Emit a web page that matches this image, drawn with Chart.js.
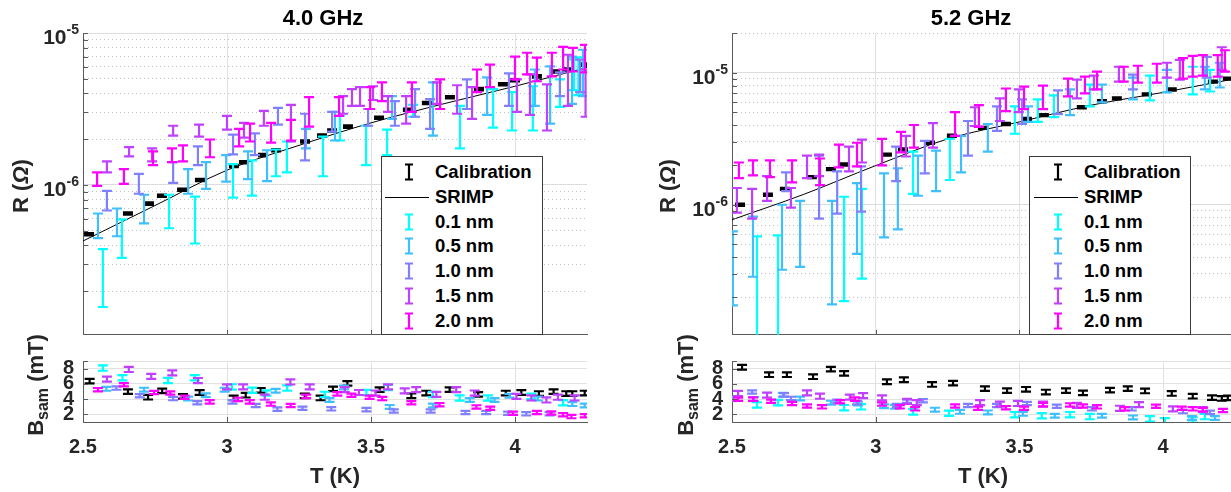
<!DOCTYPE html>
<html>
<head>
<meta charset="utf-8">
<script src="https://cdn.jsdelivr.net/npm/chart.js@4.4.1/dist/chart.umd.min.js"></script>
<style>
  body { margin: 0; width: 1231px; height: 492px; overflow: hidden; background: #fff; position: relative; font-family: "Liberation Sans", Arial, sans-serif; }
  canvas { position: absolute; }
  .txt { position: absolute; transform: translate(-50%, -50%); font-weight: bold; color: #262626; white-space: nowrap; }
  .ttl { font-size: 22px; color: #000; }
  .axl { font-size: 22px; }
  .rot { transform: translate(-50%, -50%) rotate(-90deg); }
  .rot sub { font-size: 16px; vertical-align: -5px; }
  .legend { position: absolute; top: 156px; width: 160px; height: 177px; border: 1px solid #3a3a3a; background: #fff; z-index: 5; }
  .row { position: absolute; left: 0; height: 24px; width: 100%; }
  .row span { position: absolute; top: 0; line-height: 24px; font-size: 18.5px; font-weight: bold; color: #000; }
  .row svg { position: absolute; top: 3px; }
</style>
</head>
<body>
<canvas id="topL" width="600" height="345" style="left:0;top:0"></canvas>
<canvas id="botL" width="600" height="152" style="left:0;top:340px"></canvas>
<canvas id="topR" width="600" height="345" style="left:640px;top:0"></canvas>
<canvas id="botR" width="600" height="152" style="left:640px;top:340px"></canvas>

<div class="txt ttl" style="left:323px;top:18px">4.0 GHz</div>
<div class="txt ttl" style="left:971px;top:18px">5.2 GHz</div>
<div class="txt axl rot" style="left:21px;top:186px">R (<i>Ω</i>)</div>
<div class="txt axl rot" style="left:668px;top:186px">R (<i>Ω</i>)</div>
<div class="txt axl rot" style="left:37px;top:385px">B<sub>sam</sub> (mT)</div>
<div class="txt axl rot" style="left:687px;top:385px">B<sub>sam</sub> (mT)</div>
<div class="txt axl" style="left:335px;top:476px">T (K)</div>
<div class="txt axl" style="left:983px;top:476px">T (K)</div>
<div class="legend" id="legL" style="left:381px"></div>
<div class="legend" id="legR" style="left:1029px"></div>

<script>
// axis ticks
const tTicks = [2.5, 3, 3.5, 4];
const bTicks = [2, 4, 6, 8];
const rExps = [-6, -5];

// legend entries
const names = ["0.1 nm", "0.5 nm", "1.0 nm", "1.5 nm", "2.0 nm"];
const cols = ["#00ffff", "#40bfff", "#8080ff", "#bf40ff", "#ff00ff"];

// ---- 4.0 GHz, R in micro-ohm: [T, low, high]
const r40_01 = [[2.569,0.157,0.378],[2.635,0.331,0.593],[2.799,0.518,0.861],[2.889,0.411,0.836],[3.021,0.824,1.37],[3.087,0.849,1.45],[3.170,1.14,1.71],[3.208,1.21,1.93],[3.333,1.14,2.08],[3.392,1.96,2.85],[3.483,1.35,2.45],[3.556,1.57,2.31],[3.646,2.81,3.36],[3.809,1.74,3.31],[3.924,2.38,4.27],[3.990,2.28,4.08],[4.062,2.28,4.46],[4.156,3.26,4.95],[4.205,4.2,6.7],[4.22,3.9,6.9]];
const r40_05 = [[2.552,0.446,0.648],[2.618,0.459,0.699],[2.712,0.558,0.861],[2.865,0.874,1.27],[2.927,0.942,1.41],[2.997,1.05,1.57],[3.073,1.09,1.66],[3.139,1.06,1.69],[3.274,1.74,2.34],[3.375,1.96,3.02],[3.573,2.72,3.84],[3.715,2.11,4.73],[3.903,2.89,5.10],[4.069,3.31,5.75],[4.122,2.53,6.02],[4.198,3.41,6.98],[4.236,3.84,7.76]];
const r40_10 = [[2.583,0.678,0.914],[2.694,0.874,1.18],[2.813,1.03,1.41],[2.899,1.35,1.79],[3.021,1.59,2.14],[3.097,1.57,2.18],[3.177,2.49,3.21],[3.271,1.45,2.94],[3.365,2.24,3.02],[3.490,2.45,3.16],[3.583,2.45,3.56],[3.653,2.81,4.27],[3.705,2.34,3.67],[3.833,3.16,4.95],[3.979,3.31,5.42],[4.156,3.84,5.50],[4.226,4.08,6.68]];
const r40_15 = [[2.583,1.21,1.43],[2.660,1.54,1.77],[2.740,1.43,1.74],[2.813,2.11,2.45],[2.903,2.08,2.49],[3.000,2.31,2.85],[3.059,2.05,2.56],[3.128,2.45,3.07],[3.222,1.93,3.36],[3.403,2.94,3.84],[3.434,3.31,4.27],[3.462,3.31,4.40],[3.507,3.62,4.46],[3.559,3.02,3.84],[3.622,2.53,3.84],[3.729,3.41,4.73],[3.799,2.94,4.53],[3.851,2.72,4.40],[4.007,3.02,4.95],[4.052,2.89,5.34],[4.111,2.28,4.59],[4.184,3.31,7.19],[4.245,2.81,5.75]];
const r40_20 = [[2.549,0.985,1.21],[2.642,1.015,1.27],[2.743,1.35,1.66],[2.809,1.41,1.74],[2.847,1.43,1.82],[2.941,1.52,1.99],[3.042,1.79,2.34],[3.080,1.93,2.53],[3.153,1.90,2.56],[3.222,1.96,2.68],[3.285,2.42,3.78],[3.389,2.85,3.78],[3.497,3.16,4.40],[3.538,3.56,4.73],[3.642,3.02,4.73],[3.740,3.16,4.95],[3.868,4.08,5.75],[3.913,4.40,6.20],[4.000,4.95,6.98],[4.042,5.34,7.41],[4.076,4.81,6.88],[4.128,5.18,7.41],[4.167,5.75,8.11],[4.201,5.58,7.99],[4.243,5.50,8.36]];
const r40_calT = [2.521,2.656,2.729,2.774,2.844,2.906,3.024,3.059,3.125,3.170,3.271,3.330,3.365,3.420,3.528,3.628,3.694,3.774,3.875,3.958,4.000,4.076,4.139,4.181,4.236];
const r40_cal = [0.473,0.648,0.753,0.849,0.929,1.077,1.33,1.41,1.57,1.69,1.93,2.11,2.28,2.42,2.77,3.12,3.46,3.78,4.27,4.60,4.88,5.18,5.58,5.75,6.19];
const calErr40 = 0.012;
const srimpT = [2.5, 2.75, 3.0, 3.25, 3.5, 3.75, 4.0, 4.25];
const srimp40 = [0.427, 0.731, 1.25, 1.82, 2.56, 3.41, 4.46, 5.93];

// ---- 4.0 GHz, B_sam in mT: [T, B]
const b40_cal = [[2.523,6.36],[2.656,4.98],[2.726,4.25],[2.775,5.09],[2.847,4.36],[2.905,4.87],[3.023,4.15],[3.065,4.51],[3.117,5.16],[3.270,4.44],[3.325,4.15],[3.368,5.35],[3.418,6.07],[3.530,5.24],[3.640,4.44],[3.692,4.8],[3.773,5.24],[3.872,4.62],[3.968,4.8],[4.022,4.87],[4.083,4.73],[4.134,4.98],[4.178,4.73],[4.199,4.73],[4.242,4.8]];
const b40_01 = [[2.569,8.07],[2.637,6.8],[2.795,6.44],[2.888,6.8],[3.017,5.6],[3.088,5.16],[3.137,4.8],[3.209,5.45],[3.339,4.62],[3.484,4.87],[3.559,5.53],[3.715,4.62],[3.808,4.15],[3.906,4.15],[4.057,4.36],[4.167,3.53]];
const b40_05 = [[2.581,5.35],[2.712,5.24],[2.865,4.07],[2.926,4.51],[2.992,5.24],[3.169,5.09],[3.356,3.89],[3.406,5.53],[3.565,2.98],[3.715,3.16],[3.843,3.89],[3.929,3.89],[3.981,4.44],[4.080,4.07],[4.199,3.35],[4.242,3.16]];
const b40_10 = [[2.616,5.45],[2.697,4.44],[2.813,4.07],[2.897,3.53],[3.019,3.64],[3.100,3.16],[3.175,2.69],[3.262,2.8],[3.362,2.73],[3.484,2.62],[3.579,2.44],[3.707,2.44],[3.828,2.25],[3.900,2.25],[3.976,2.15],[4.039,2.07],[4.120,2.07]];
const b40_15 = [[2.583,6.62],[2.659,7.89],[2.737,6.98],[2.810,7.45],[2.899,6.44],[3.000,5.6],[3.056,5.6],[3.131,4.25],[3.220,6.25],[3.287,5.6],[3.409,5.24],[3.458,4.87],[3.516,4.8],[3.559,5.6],[3.617,5.09],[3.657,5.24],[3.727,4.62],[3.796,5.24],[3.860,4.8],[4.005,4.36],[4.057,4.15],[4.109,3.89],[4.149,4.25],[4.207,4.15]];
const b40_20 = [[2.552,5.24],[2.642,5.89],[2.747,4.87],[2.803,4.8],[2.853,4.25],[2.940,3.64],[3.038,3.96],[3.079,3.64],[3.152,3.35],[3.221,3.16],[3.275,4.36],[3.383,4.69],[3.432,4.51],[3.495,4.25],[3.539,4.07],[3.640,3.53],[3.738,3.27],[3.866,2.98],[3.914,2.8],[3.993,2.15],[4.076,2.25],[4.126,2.18],[4.167,1.96],[4.196,1.71],[4.242,1.82]];

// ---- 5.2 GHz, R in micro-ohm: [T, low, high]
const r52_01 = [[2.587,0.05,0.577],[2.660,0.05,0.587],[2.890,0.186,1.15],[2.952,0.276,1.32],[3.130,1.21,2.53],[3.258,1.54,3.16],[3.484,3.45,5.57],[3.564,4.24,6.29],[3.620,4.61,6.73],[3.745,5.57,8.13],[3.954,6.18,9.50],[4.103,6.85,11.1],[4.163,7.21,10.5]];
const r52_05 = [[2.503,0.173,0.629],[2.573,0.285,0.813],[2.674,0.322,1.00],[2.737,0.339,1.07],[2.848,0.176,1.07],[2.935,0.424,1.46],[3.029,0.567,1.73],[3.077,0.651,1.89],[3.147,1.17,2.36],[3.210,1.27,2.57],[3.297,1.76,3.33],[3.390,2.53,4.09],[3.530,4.24,5.57],[3.676,4.78,7.47],[3.787,5.97,8.13],[3.895,6.29,9.18],[4.013,7.10,10.5],[4.145,7.47,11.1],[4.197,7.73,11.9]];
const r52_10 = [[2.688,1.27,1.76],[2.803,0.786,2.36],[2.866,0.857,1.79],[2.949,0.887,1.95],[3.071,1.51,2.76],[3.171,1.73,3.05],[3.321,2.36,4.31],[3.422,3.63,5.57],[3.509,4.09,6.29],[3.634,4.86,7.34],[3.895,7.47,9.66],[4.152,9.18,13.2]];
const r52_15 = [[2.517,0.871,1.34],[2.570,0.786,1.32],[2.622,1.07,1.65],[2.705,0.950,1.34],[2.761,1.59,2.36],[2.803,1.65,2.40],[2.907,1.79,2.76],[2.952,2.09,3.11],[3.105,2.32,3.33],[3.199,2.71,4.16],[3.345,3.95,5.48],[3.432,4.31,6.40],[3.498,5.03,7.47],[3.700,6.40,8.87],[3.759,7.47,9.50],[3.846,8.57,11.1],[4.013,9.18,11.9],[4.058,8.87,12.5],[4.204,10.5,15.6]];
const r52_20 = [[2.524,1.59,2.09],[2.573,1.67,2.17],[2.632,1.62,2.17],[2.709,1.48,2.17],[2.806,1.41,2.24],[2.872,1.92,2.85],[2.935,1.95,2.95],[3.022,1.99,3.16],[3.088,2.49,3.57],[3.133,2.71,4.02],[3.276,3.33,5.03],[3.359,3.89,5.68],[3.453,5.12,7.60],[3.516,5.30,7.86],[3.582,5.30,8.00],[3.669,6.62,9.02],[3.728,6.97,9.33],[3.770,7.47,10.2],[3.863,8.57,11.1],[3.912,8.42,11.3],[3.978,8.42,11.7],[4.069,9.02,12.9],[4.103,9.33,13.4],[4.138,9.50,13.6],[4.190,9.33,13.6],[4.215,10.2,14.8]];
const r52_calT = [2.528,2.625,2.684,2.778,2.844,2.890,3.039,3.095,3.189,3.265,3.373,3.453,3.526,3.585,3.717,3.787,3.839,3.943,4.030,4.173,4.225];
const r52_cal = [1.00,1.19,1.32,1.62,1.86,2.02,2.40,2.62,2.95,3.33,3.82,4.09,4.46,4.78,5.48,6.08,6.40,6.85,7.47,8.57,9.02];
const calErr52 = 0.012;
const srimp52 = [0.77, 1.2, 1.98, 3.15, 4.24, 5.68, 7.1, 9.0];

// ---- 5.2 GHz, B_sam in mT: [T, B]
const b52_cal = [[2.535,8.18],[2.629,7.2],[2.691,7.2],[2.782,6.94],[2.844,7.93],[2.890,7.38],[3.039,6.28],[3.098,6.54],[3.196,5.92],[3.269,6.1],[3.380,5.37],[3.457,5.11],[3.523,5.29],[3.592,4.93],[3.662,5.11],[3.721,4.82],[3.815,5.18],[3.877,5.37],[3.937,5.07],[4.030,4.74],[4.103,4.38],[4.170,4.2],[4.204,4.09],[4.225,4.16]];
const b52_01 = [[2.587,3.24],[2.660,3.54],[2.890,2.88],[2.949,2.99],[3.130,2.33],[3.255,2.15],[3.484,1.96],[3.578,1.82],[3.676,1.96],[3.745,1.71],[3.954,1.41],[4.006,1.16],[4.103,1.27],[4.145,1.71]];
const b52_05 = [[2.503,4.09],[2.577,4.0],[2.677,4.56],[2.737,4.09],[2.844,3.54],[2.938,3.43],[3.029,3.06],[3.067,2.99],[3.206,2.62],[3.293,2.33],[3.390,2.26],[3.512,2.07],[3.623,1.82],[3.787,1.82],[3.895,1.6],[4.100,1.52],[4.180,1.52]];
const b52_10 = [[2.570,4.93],[2.681,4.56],[2.705,4.09],[2.866,3.72],[2.935,3.54],[3.074,3.17],[3.109,3.72],[3.164,3.79],[3.321,3.17],[3.422,3.17],[3.526,3.43],[3.630,3.06],[3.752,2.73],[3.891,2.73],[4.069,2.37],[4.163,2.26]];
const b52_15 = [[2.521,4.74],[2.622,4.52],[2.761,4.82],[2.806,4.38],[2.910,4.27],[2.956,4.45],[3.022,4.16],[3.109,3.72],[3.143,3.54],[3.363,3.54],[3.432,3.35],[3.495,3.43],[3.582,3.35],[3.700,3.17],[3.850,2.8],[3.916,3.28],[4.034,2.73],[4.138,2.62]];
const b52_20 = [[2.521,3.98],[2.573,4.0],[2.636,3.72],[2.709,3.43],[2.761,3.1],[2.813,2.99],[2.876,3.65],[2.928,4.0],[3.022,3.35],[3.084,2.99],[3.137,2.73],[3.276,3.1],[3.356,2.8],[3.453,2.88],[3.516,2.8],[3.582,3.28],[3.676,3.24],[3.721,3.1],[3.770,2.99],[3.867,2.73],[3.975,3.06],[4.065,2.8],[4.103,2.73],[4.138,2.62],[4.208,2.51]];

// half heights of the B_sam bars: cal, 0.1, 0.5, 1.0, 1.5, 2.0
const bErr = [0.3, 0.35, 0.25, 0.22, 0.33, 0.22];

Chart.defaults.font.family = '"Liberation Sans", Arial, sans-serif';
const AX = "#5a5a5a";

const isDecade = v => Math.abs(Math.log10(v) - Math.round(Math.log10(v))) < 1e-6;

function logGrid(lo, hi) {
  const out = [];
  for (let e = -8; e <= -4; e++)
    for (let m = 1; m < 10; m++) {
      const v = m * Math.pow(10, e);
      if (v >= lo * 1.0001 && v <= hi * 1.0001) out.push(v);
    }
  return out;
}

// draws vertical error bars with caps, using the chart scales
const errorBars = {
  id: "errorBars",
  afterDatasetsDraw(chart) {
    const { ctx, chartArea: a, scales: { x, y } } = chart;
    ctx.save();
    ctx.beginPath();
    ctx.rect(a.left, a.top, a.right - a.left, a.bottom - a.top);
    ctx.clip();
    chart.data.datasets.forEach(ds => {
      if (!ds.bar) return;
      ctx.strokeStyle = ds.borderColor;
      ctx.lineWidth = ds.bar.width;
      const w = ds.bar.cap;
      ds.data.forEach(p => {
        const px = x.getPixelForValue(p.x);
        const p1 = y.getPixelForValue(p.lo);
        const p2 = y.getPixelForValue(p.hi);
        ctx.beginPath();
        ctx.moveTo(px, p1); ctx.lineTo(px, p2);
        ctx.moveTo(px - w, p1); ctx.lineTo(px + w, p1);
        ctx.moveTo(px - w, p2); ctx.lineTo(px + w, p2);
        ctx.stroke();
      });
    });
    ctx.restore();
  }
};

// 10^n labels on the log axes
const powLabels = {
  id: "powLabels",
  afterDraw(chart, args, opts) {
    if (!opts || !opts.exps) return;
    const s = chart.scales.y, ctx = chart.ctx;
    ctx.save();
    ctx.fillStyle = "#262626";
    ctx.textAlign = "left";
    ctx.textBaseline = "alphabetic";
    opts.exps.forEach(e => {
      const py = s.getPixelForValue(Math.pow(10, e));
      const sup = "-" + Math.abs(e);
      ctx.font = 'bold 14px "Liberation Sans", Arial, sans-serif';
      const ws = ctx.measureText(sup).width;
      ctx.font = 'bold 21px "Liberation Sans", Arial, sans-serif';
      const wb = ctx.measureText("10").width;
      const right = s.right - 4;
      ctx.fillText("10", right - ws - wb, py + 11);
      ctx.font = 'bold 14px "Liberation Sans", Arial, sans-serif';
      ctx.fillText(sup, right - ws, py + 1);
    });
    ctx.restore();
  }
};

// tick marks pointing into the plot
const innerTicks = {
  id: "innerTicks",
  afterDraw(chart) {
    const { ctx, chartArea: a, scales: { x, y } } = chart;
    ctx.save();
    ctx.strokeStyle = AX;
    ctx.lineWidth = 1;
    ctx.beginPath();
    y.ticks.forEach(t => {
      const py = Math.round(y.getPixelForValue(t.value)) + 0.5;
      ctx.moveTo(a.left, py); ctx.lineTo(a.left + 5, py);
    });
    x.ticks.forEach(t => {
      const px = Math.round(x.getPixelForValue(t.value)) + 0.5;
      ctx.moveTo(px, a.bottom); ctx.lineTo(px, a.bottom - 5);
    });
    ctx.stroke();
    ctx.restore();
  }
};

function rSet(rows, color) {
  return {
    type: "scatter", pointRadius: 0, borderColor: color, bar: { width: 2.2, cap: 5 },
    data: rows.map(r => ({ x: r[0], y: Math.sqrt(r[1] * r[2]) * 1e-6, lo: r[1] * 1e-6, hi: r[2] * 1e-6 }))
  };
}

function calSet(ts, vals, err) {
  return {
    type: "scatter", pointRadius: 0, borderColor: "#000", bar: { width: 3, cap: 5 },
    data: ts.map((t, i) => ({ x: t, y: vals[i] * 1e-6, lo: vals[i] * (1 - err) * 1e-6, hi: vals[i] * (1 + err) * 1e-6 }))
  };
}

function bSet(rows, color, err) {
  return {
    type: "scatter", pointRadius: 0, borderColor: color, bar: { width: 2.2, cap: 5 },
    data: rows.map(r => ({ x: r[0], y: r[1], lo: r[1] - err, hi: r[1] + err }))
  };
}

function xScale(h, showLabels) {
  return {
    type: "linear", min: 2.5, max: 4.25,
    afterBuildTicks: s => { s.ticks = tTicks.map(v => ({ value: v })); },
    afterFit: s => { s.height = h; },
    ticks: {
      display: showLabels, autoSkip: false, maxRotation: 0, minRotation: 0, padding: 13,
      color: "#262626", font: { size: 20, weight: "bold" }, callback: v => String(v)
    },
    grid: { color: "#e2e2e2", drawTicks: false },
    border: { color: AX }
  };
}

function topChart(id, sets, cal, srimp, yMin, yMax, axisW, padR) {
  const grid = logGrid(yMin, yMax);
  return new Chart(document.getElementById(id), {
    type: "scatter",
    data: {
      datasets: [
        cal,
        { type: "line", data: srimpT.map((t, i) => ({ x: t, y: srimp[i] * 1e-6 })), borderColor: "#000", borderWidth: 1, pointRadius: 0, cubicInterpolationMode: "monotone" },
        ...sets.map((rows, i) => rSet(rows, cols[i]))
      ]
    },
    options: {
      responsive: false, animation: false, devicePixelRatio: 1,
      layout: { padding: { top: 33, right: padR, bottom: 6, left: 0 } },
      plugins: { legend: { display: false }, tooltip: { enabled: false }, powLabels: { exps: rExps } },
      scales: {
        x: xScale(0, false),
        y: {
          type: "logarithmic", min: yMin, max: yMax,
          afterBuildTicks: s => { s.ticks = grid.map(v => ({ value: v })); },
          afterFit: s => { s.width = axisW; },
          ticks: { autoSkip: false, callback: () => "" },
          grid: { drawTicks: false, color: c => (c.tick && isDecade(c.tick.value)) ? "#dcdcdc" : "#c2c2c2" },
          border: { color: AX, dash: c => (c.tick && !isDecade(c.tick.value)) ? [1, 3] : [] }
        }
      }
    },
    plugins: [errorBars, powLabels, innerTicks]
  });
}

function botChart(id, sets, axisW, padR) {
  const yt = bTicks.concat([9]);
  return new Chart(document.getElementById(id), {
    type: "scatter",
    data: { datasets: sets.map((rows, i) => bSet(rows, i === 0 ? "#000" : cols[i - 1], bErr[i])) },
    options: {
      responsive: false, animation: false, devicePixelRatio: 1,
      layout: { padding: { top: 8, right: padR, bottom: 0, left: 0 } },
      plugins: { legend: { display: false }, tooltip: { enabled: false } },
      scales: {
        x: xScale(70, true),
        y: {
          type: "linear", min: 1, max: 9,
          afterBuildTicks: s => { s.ticks = yt.map(v => ({ value: v })); },
          afterFit: s => { s.width = axisW; },
          ticks: { autoSkip: false, padding: 9, color: "#262626", font: { size: 20, weight: "bold" }, callback: v => bTicks.includes(v) ? String(v) : "" },
          grid: { drawTicks: false, color: "#e2e2e2" },
          border: { color: AX }
        }
      }
    },
    plugins: [errorBars, innerTicks]
  });
}

topChart("topL", [r40_01, r40_05, r40_10, r40_15, r40_20], calSet(r40_calT, r40_cal, calErr40), srimp40, 1.03e-7, 1e-5, 83, 13);
botChart("botL", [b40_cal, b40_01, b40_05, b40_10, b40_15, b40_20], 83, 13);
topChart("topR", [r52_01, r52_05, r52_10, r52_15, r52_20], calSet(r52_calT, r52_cal, calErr52), srimp52, 1.035e-7, 2e-5, 92, 5);
botChart("botR", [b52_cal, b52_01, b52_05, b52_10, b52_15, b52_20], 92, 5);

// legends
function legend(id, iconX, textX) {
  const box = document.getElementById(id);
  const entries = [["Calibration", "#000", "bar"], ["SRIMP", "#000", "line"]].concat(names.map((n, i) => [n, cols[i], "bar"]));
  entries.forEach((e, i) => {
    const row = document.createElement("div");
    row.className = "row";
    row.style.top = (3 + i * 24.8) + "px";
    let icon;
    if (e[2] === "line") {
      icon = '<svg width="46" height="18" style="left:' + (iconX - 24) + 'px"><line x1="0" y1="9.5" x2="44" y2="9.5" stroke="#000" stroke-width="1"/></svg>';
    } else {
      icon = '<svg width="12" height="18" style="left:' + (iconX - 6) + 'px"><path d="M2 1.5H10M6 1.5V16.5M2 16.5H10" fill="none" stroke="' + e[1] + '" stroke-width="2.2"/></svg>';
    }
    row.innerHTML = icon + '<span style="left:' + textX + 'px">' + e[0] + "</span>";
    box.appendChild(row);
  });
}
legend("legL", 27, 53);
legend("legR", 28, 54);
</script>
</body>
</html>
